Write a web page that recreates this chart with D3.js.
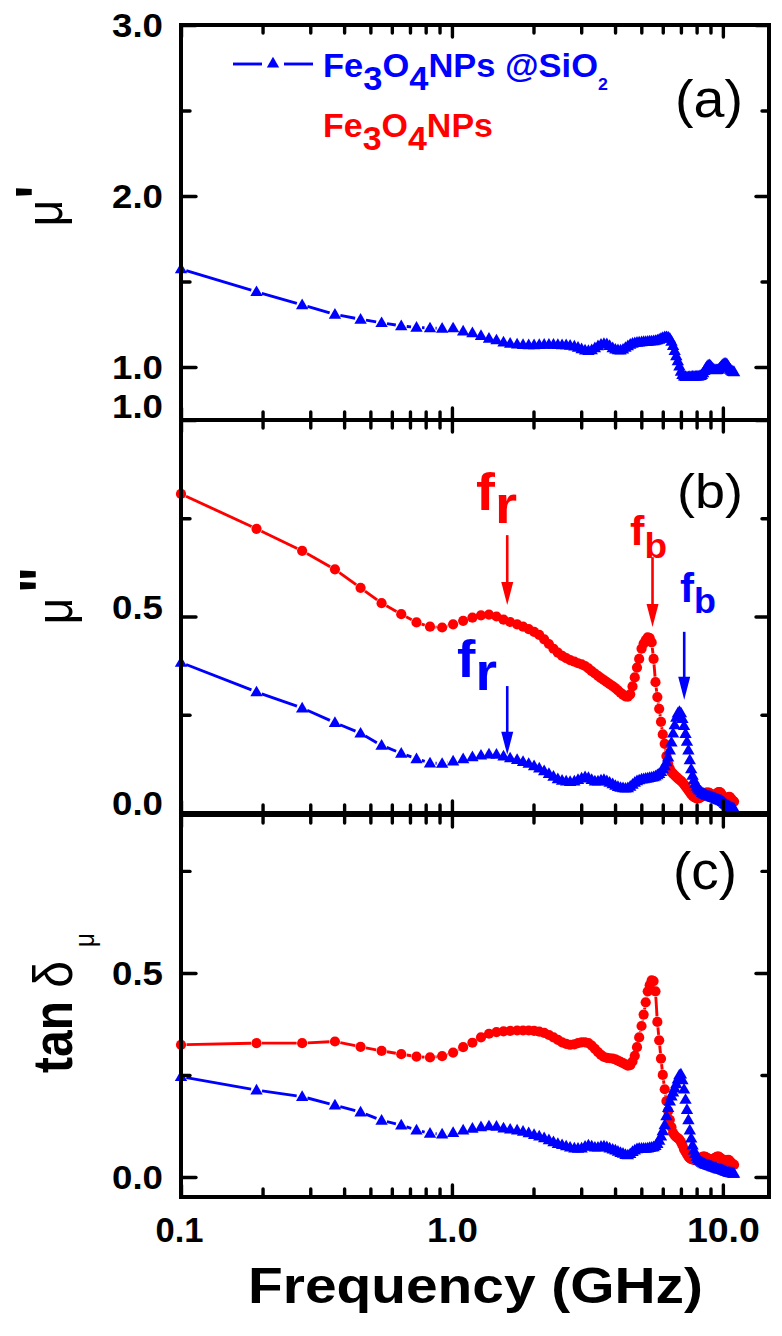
<!DOCTYPE html>
<html><head><meta charset="utf-8">
<script src="https://cdn.jsdelivr.net/npm/d3@7"></script>
<style>body{margin:0;background:#fff}svg{display:block}</style>
</head><body>
<svg id="c" width="782" height="1336"></svg>
<script>
// ---------------- DATA ----------------
const freq = [0.10,0.19,0.28,0.37,0.46,0.55,0.65,0.74,0.83,0.92,
1.01,1.10,1.19,1.28,1.37,1.46,1.55,1.64,1.74,1.83,
1.92,2.01,2.10,2.19,2.28,2.37,2.46,2.55,2.64,2.73,
2.83,2.92,3.01,3.10,3.19,3.28,3.37,3.46,3.55,3.64,
3.73,3.82,3.92,4.01,4.10,4.19,4.28,4.37,4.46,4.55,
4.64,4.73,4.82,4.91,5.01,5.10,5.19,5.28,5.37,5.46,
5.55,5.64,5.73,5.82,5.91,6.00,6.10,6.19,6.28,6.37,
6.46,6.55,6.64,6.73,6.82,6.91,7.00,7.09,7.19,7.28,
7.37,7.46,7.55,7.64,7.73,7.82,7.91,8.00,8.09,8.18,
8.28,8.37,8.46,8.55,8.64,8.73,8.82,8.91,9.00,9.09,
9.18,9.27,9.37,9.46,9.55,9.64,9.73,9.82,9.91,10.00,
10.09,10.18,10.27,10.36,10.46,10.55,10.64,10.73,10.82,10.91,
11.00];

// panel (a): mu' of Fe3O4NPs@SiO2
const muRealSiO2 = [1.573,1.440,1.363,1.308,1.279,1.259,1.240,1.232,1.228,1.226,
1.228,1.210,1.200,1.183,1.168,1.158,1.146,1.138,1.134,1.131,
1.130,1.130,1.131,1.132,1.132,1.132,1.131,1.130,1.129,1.127,
1.122,1.115,1.106,1.099,1.096,1.100,1.112,1.124,1.133,1.137,
1.135,1.125,1.112,1.104,1.100,1.099,1.104,1.114,1.124,1.132,
1.138,1.142,1.144,1.146,1.147,1.148,1.149,1.150,1.151,1.152,
1.153,1.155,1.158,1.162,1.167,1.172,1.176,1.177,1.175,1.168,
1.150,1.125,1.095,1.065,1.035,1.005,0.975,0.955,0.946,0.944,
0.943,0.943,0.944,0.944,0.945,0.945,0.946,0.946,0.947,0.948,
0.950,0.955,0.965,0.978,0.992,1.003,1.010,1.012,1.008,1.000,
0.992,0.987,0.984,0.983,0.984,0.987,0.993,1.001,1.008,1.014,
1.019,1.021,1.020,1.015,1.006,0.995,0.986,0.980,0.976,0.973,
0.972];

// panel (b): mu''
const muImagFe = [0.812,0.723,0.667,0.620,0.573,0.534,0.506,0.485,0.474,0.472,
0.480,0.489,0.497,0.503,0.505,0.500,0.492,0.486,0.480,0.474,
0.468,0.461,0.453,0.442,0.430,0.418,0.408,0.400,0.394,0.389,
0.385,0.381,0.378,0.374,0.368,0.361,0.355,0.349,0.343,0.338,
0.333,0.328,0.323,0.318,0.312,0.306,0.301,0.297,0.296,0.302,
0.322,0.345,0.370,0.392,0.418,0.431,0.440,0.447,0.445,0.434,
0.392,0.333,0.295,0.265,0.232,0.200,0.176,0.145,0.125,0.113,
0.104,0.100,0.096,0.092,0.088,0.085,0.082,0.078,0.073,0.068,
0.063,0.058,0.053,0.048,0.044,0.041,0.039,0.037,0.037,0.038,
0.040,0.043,0.046,0.049,0.051,0.052,0.052,0.051,0.049,0.047,
0.045,0.044,0.045,0.048,0.051,0.053,0.053,0.051,0.047,0.042,
0.038,0.035,0.034,0.036,0.039,0.041,0.040,0.036,0.032,0.030,
0.029];
const muImagSiO2 = [0.383,0.308,0.267,0.230,0.203,0.172,0.152,0.138,0.127,0.126,
0.132,0.138,0.143,0.147,0.150,0.149,0.145,0.140,0.136,0.131,
0.126,0.120,0.114,0.107,0.100,0.093,0.087,0.083,0.081,0.080,
0.081,0.085,0.089,0.092,0.090,0.085,0.081,0.081,0.084,0.085,
0.082,0.078,0.074,0.070,0.067,0.065,0.064,0.063,0.064,0.068,
0.073,0.078,0.082,0.084,0.086,0.087,0.088,0.089,0.090,0.091,
0.092,0.094,0.097,0.100,0.105,0.112,0.120,0.130,0.142,0.160,
0.180,0.203,0.224,0.243,0.254,0.258,0.255,0.240,0.222,0.202,
0.182,0.160,0.135,0.112,0.096,0.084,0.075,0.068,0.063,0.059,
0.056,0.052,0.050,0.048,0.047,0.045,0.044,0.043,0.042,0.041,
0.040,0.039,0.038,0.036,0.035,0.034,0.033,0.032,0.031,0.029,
0.027,0.024,0.022,0.020,0.019,0.017,0.016,0.014,0.013,0.012,
0.011];

// panel (c): tan delta_mu
const tanFe = [0.324,0.328,0.328,0.332,0.319,0.309,0.301,0.295,0.293,0.296,
0.305,0.318,0.329,0.342,0.351,0.355,0.357,0.358,0.359,0.359,
0.359,0.358,0.356,0.353,0.348,0.342,0.336,0.330,0.326,0.324,
0.325,0.328,0.330,0.330,0.328,0.322,0.314,0.306,0.299,0.294,
0.292,0.291,0.290,0.288,0.285,0.282,0.279,0.276,0.273,0.274,
0.283,0.297,0.318,0.342,0.370,0.398,0.428,0.455,0.470,0.482,
0.480,0.455,0.380,0.335,0.290,0.250,0.215,0.186,0.162,0.140,
0.122,0.108,0.102,0.098,0.095,0.092,0.086,0.078,0.068,0.062,
0.056,0.050,0.046,0.044,0.043,0.042,0.042,0.042,0.043,0.045,
0.047,0.049,0.050,0.050,0.049,0.047,0.045,0.043,0.042,0.042,
0.043,0.045,0.047,0.049,0.050,0.050,0.048,0.046,0.044,0.042,
0.041,0.040,0.040,0.041,0.042,0.041,0.038,0.035,0.033,0.031,
0.030];
const tanSiO2 = [0.246,0.213,0.197,0.176,0.159,0.139,0.127,0.115,0.107,0.105,
0.109,0.115,0.119,0.123,0.125,0.124,0.120,0.117,0.115,0.112,
0.108,0.104,0.100,0.096,0.091,0.086,0.082,0.079,0.076,0.073,
0.071,0.070,0.071,0.075,0.078,0.076,0.073,0.073,0.075,0.076,
0.074,0.071,0.068,0.066,0.063,0.060,0.058,0.055,0.054,0.057,
0.062,0.066,0.069,0.070,0.070,0.070,0.070,0.071,0.072,0.073,
0.074,0.077,0.082,0.090,0.100,0.113,0.128,0.150,0.170,0.186,
0.198,0.208,0.218,0.228,0.240,0.250,0.252,0.238,0.215,0.190,
0.165,0.140,0.115,0.095,0.078,0.066,0.057,0.050,0.045,0.041,
0.038,0.036,0.034,0.032,0.031,0.030,0.029,0.028,0.027,0.026,
0.025,0.024,0.023,0.022,0.021,0.020,0.019,0.019,0.018,0.017,
0.016,0.015,0.014,0.013,0.012,0.011,0.011,0.010,0.010,0.009,
0.009];

const xMajor = [0.1, 1, 10];
const xMinor = [0.2,0.3,0.4,0.5,0.6,0.7,0.8,0.9,2,3,4,5,6,7,8,9];
const xTickLabels = ["0.1", "1.0", "10.0"];
const aMajor = [1, 2, 3], aMinor = [1.5, 2.5], aLabels = ["1.0", "2.0", "3.0"];
const bMajor = [0, 0.5, 1], bMinor = [0.25, 0.75], bLabels = ["0.0", "0.5", "1.0"];
const cMajor = [0, 0.5], cMinor = [0.25, 0.75], cLabels = ["0.0", "0.5"];
const panelNames = ["(a)", "(b)", "(c)"];
// annotation arrows: [main, sub, freq, from value, to value, series]
const annFr = [["f","r",1.6,0.707,0.529,"Fe"],["f","r",1.6,0.323,0.148,"SiO2"]];
const annFb = [["f","b",5.5,0.651,0.473,"Fe"],["f","b",7.2,0.461,0.288,"SiO2"]];

// ---------------- SETUP ----------------
const RED = "#ff0000", BLUE = "#0000ff";
const FONT = "'Liberation Sans', Arial, Helvetica, sans-serif";
const SX = 1.14;
const svg = d3.select("#c");
const L = 181, R = 769;
const x = d3.scaleLog().domain([0.1, 14.8]).range([L, R]);
const ya = d3.scaleLinear().domain([0.69, 3.0]).range([420, 25]);
const yb = d3.scaleLinear().domain([0, 1]).range([813, 420]);
const yc = d3.scaleLinear().domain([-0.049, 0.887]).range([1197, 815]);

function txt(parent, px, py, parts, o) {
  const t = parent.append("text")
    .attr("text-anchor", o.anchor || "start")
    .attr("font-family", FONT)
    .attr("font-size", o.size)
    .attr("font-weight", o.weight || "bold")
    .attr("fill", o.fill || "#000");
  parts.forEach(p => {
    const s = t.append("tspan").text(p.t);
    if (p.dy) s.attr("dy", p.dy);
    if (p.size) s.attr("font-size", p.size);
    if (p.weight) s.attr("font-weight", p.weight);
  });
  let sx = o.sx || SX;
  if (o.width) sx = o.width / t.node().getBBox().width;
  t.attr("transform", `translate(${px},${py}) scale(${sx},1)` + (o.rot ? ` rotate(${o.rot})` : ""));
  return t;
}

const triSym = d3.symbol().type(d3.symbolTriangle).size(66);
const GAP = 5.5;
function drawSeries(g, ys, vals, color, shape) {
  const pts = vals.map((v, i) => [x(freq[i]), ys(v)]);
  const segs = [];
  for (let i = 0; i < pts.length - 1; i++) {
    const [x1, y1] = pts[i], [x2, y2] = pts[i + 1];
    const len = Math.hypot(x2 - x1, y2 - y1);
    if (len > 2 * GAP) {
      const ux = (x2 - x1) / len, uy = (y2 - y1) / len;
      segs.push([x1 + ux * GAP, y1 + uy * GAP, x2 - ux * GAP, y2 - uy * GAP]);
    }
  }
  g.append("g").selectAll("line").data(segs).enter().append("line")
    .attr("x1", d => d[0]).attr("y1", d => d[1]).attr("x2", d => d[2]).attr("y2", d => d[3])
    .attr("stroke", color).attr("stroke-width", 2.9);
  const mg = g.append("g");
  if (shape === "circle") {
    mg.selectAll("circle").data(vals).enter().append("circle")
      .attr("cx", (v, i) => x(freq[i])).attr("cy", v => ys(v)).attr("r", 5.1).attr("fill", color);
  } else {
    mg.selectAll("path").data(vals).enter().append("path")
      .attr("d", triSym).attr("transform", (v, i) => `translate(${x(freq[i])},${ys(v) + 0.8})`).attr("fill", color);
  }
}

function drawFrame(ys, major, minor) {
  const [y0, y1] = ys.range(); // bottom, top
  const g = svg.append("g");
  const st = sel => { sel.select(".domain").remove(); sel.selectAll("line").attr("stroke", "#000").attr("stroke-width", 3.4).attr("stroke-linecap", "round"); };
  g.append("g").attr("transform", `translate(0,${y0})`).call(d3.axisBottom(x).tickValues(xMajor).tickSize(-12).tickFormat("")).call(st);
  g.append("g").attr("transform", `translate(0,${y0})`).call(d3.axisBottom(x).tickValues(xMinor).tickSize(-8).tickFormat("")).call(st);
  g.append("g").attr("transform", `translate(0,${y1})`).call(d3.axisTop(x).tickValues(xMajor).tickSize(-12).tickFormat("")).call(st);
  g.append("g").attr("transform", `translate(0,${y1})`).call(d3.axisTop(x).tickValues(xMinor).tickSize(-8).tickFormat("")).call(st);
  g.append("g").attr("transform", `translate(${L},0)`).call(d3.axisLeft(ys).tickValues(major).tickSize(-15).tickFormat("")).call(st);
  g.append("g").attr("transform", `translate(${L},0)`).call(d3.axisLeft(ys).tickValues(minor).tickSize(-9).tickFormat("")).call(st);
  g.append("g").attr("transform", `translate(${R},0)`).call(d3.axisRight(ys).tickValues(major).tickSize(-13).tickFormat("")).call(st);
  g.append("g").attr("transform", `translate(${R},0)`).call(d3.axisRight(ys).tickValues(minor).tickSize(-7).tickFormat("")).call(st);
  g.append("rect").attr("x", L).attr("y", y1).attr("width", R - L).attr("height", y0 - y1)
    .attr("fill", "none").attr("stroke", "#000").attr("stroke-width", 4);
  return g;
}

// ---------------- PANEL (a) ----------------
const gA = svg.append("g");
drawSeries(gA, ya, muRealSiO2, BLUE, "tri");
drawFrame(ya, aMajor, aMinor);
aMajor.forEach((v, i) => txt(svg, 163, ya(v) + 12, [{t: aLabels[i]}], {size: 34, anchor: "end", width: 51}));

// ---------------- PANEL (b) ----------------
const gB = svg.append("g");
drawSeries(gB, yb, muImagFe, RED, "circle");
drawSeries(gB, yb, muImagSiO2, BLUE, "tri");
drawFrame(yb, bMajor, bMinor);
bMajor.forEach((v, i) => txt(svg, 163, yb(v) + (v === 1 ? -2 : 2), [{t: bLabels[i]}], {size: 34, anchor: "end", width: 51}));

// ---------------- PANEL (c) ----------------
const gC = svg.append("g");
drawSeries(gC, yc, tanFe, RED, "circle");
drawSeries(gC, yc, tanSiO2, BLUE, "tri");
drawFrame(yc, cMajor, cMinor);
cMajor.forEach((v, i) => txt(svg, 163, yc(v) + 12, [{t: cLabels[i]}], {size: 34, anchor: "end", width: 51}));

// x tick labels
const xlW = [48, 51, 73];
xMajor.forEach((v, i) => txt(svg, x(v) - (i === 0 ? 1.5 : -0.5), 1242, [{t: xTickLabels[i]}], {size: 35, anchor: "middle", width: xlW[i]}));
// x title
txt(svg, 475.5, 1303, [{t: "Frequency (GHz)"}], {size: 50, anchor: "middle", width: 455});

// panel labels
txt(svg, 675, 117, [{t: panelNames[0]}], {size: 52, weight: "normal", width: 68});
txt(svg, 677, 508, [{t: panelNames[1]}], {size: 48, weight: "normal", width: 66});
txt(svg, 673, 889, [{t: panelNames[2]}], {size: 52, weight: "normal", width: 64});

// y titles
txt(svg, 62, 213, [{t: "\u03bc"}], {size: 46, weight: "normal", anchor: "middle", rot: -90});
txt(svg, 59, 192, [{t: "'"}], {size: 56, anchor: "middle", rot: -90});
txt(svg, 72, 611, [{t: "\u03bc"}], {size: 46, weight: "normal", anchor: "middle", rot: -90});
txt(svg, 63, 580, [{t: "\""}], {size: 56, anchor: "middle", rot: -90});
txt(svg, 72, 1073, [{t: "tan "}, {t: "\u03b4", weight: "normal"}], {size: 48, anchor: "start", rot: -90});
txt(svg, 94, 940, [{t: "\u03bc"}], {size: 24, weight: "normal", anchor: "middle", rot: -90});

// legend
const lg = svg.append("g");
const legY = 64;
[[233, 262], [284, 313]].forEach(s => lg.append("line").attr("x1", s[0]).attr("x2", s[1]).attr("y1", legY).attr("y2", legY)
  .attr("stroke", BLUE).attr("stroke-width", 2.9));
lg.append("path").attr("d", triSym).attr("transform", `translate(273,${legY})`).attr("fill", BLUE);
txt(lg, 323, 77, [{t: "Fe"}, {t: "3", dy: 13}, {t: "O", dy: -13}, {t: "4", dy: 13}, {t: "NPs @SiO", dy: -13}, {t: "2", dy: 13, size: 17}],
  {size: 33, fill: BLUE, width: 285});
txt(lg, 323, 137, [{t: "Fe"}, {t: "3", dy: 13}, {t: "O", dy: -13}, {t: "4", dy: 13}, {t: "NPs", dy: -13}],
  {size: 33, fill: RED, width: 170});

// annotations
function arrow(f, v0, v1, color) {
  const ax = x(f), yy0 = yb(v0), yy1 = yb(v1);
  svg.append("line").attr("x1", ax).attr("x2", ax).attr("y1", yy0).attr("y2", yy1 - 18)
    .attr("stroke", color).attr("stroke-width", 2.6);
  svg.append("path").attr("d", `M${ax - 6},${yy1 - 23}L${ax + 6},${yy1 - 23}L${ax},${yy1}Z`).attr("fill", color);
}
annFr.forEach(a => arrow(a[2], a[3], a[4], a[5] === "Fe" ? RED : BLUE));
annFb.forEach(a => arrow(a[2], a[3], a[4], a[5] === "Fe" ? RED : BLUE));
txt(svg, 476, 510, [{t: annFr[0][0]}, {t: annFr[0][1], dy: 13}], {size: 52, fill: RED, width: 41});
txt(svg, 457, 677, [{t: annFr[1][0]}, {t: annFr[1][1], dy: 13}], {size: 52, fill: BLUE, width: 40});
txt(svg, 630, 545, [{t: annFb[0][0]}, {t: annFb[0][1], dy: 13, size: 35}], {size: 41, fill: RED, width: 37});
txt(svg, 680, 602, [{t: annFb[1][0]}, {t: annFb[1][1], dy: 11, size: 35}], {size: 41, fill: BLUE, width: 36});
</script>
</body></html>
